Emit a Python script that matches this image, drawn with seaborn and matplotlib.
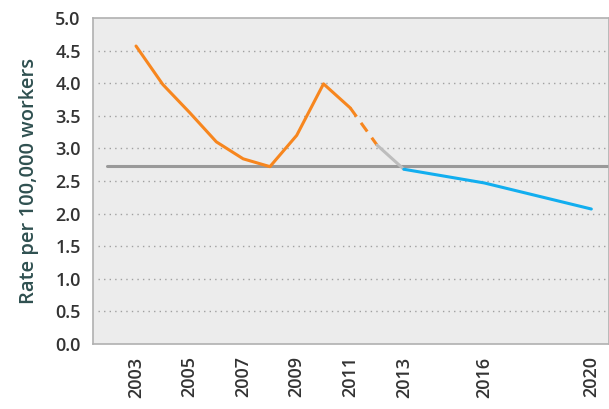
import pandas as pd
import matplotlib.pyplot as plt
import seaborn as sns

# Valores
anos_laranja = [2003, 2004, 2005, 2006, 2007, 2008, 2009, 2010, 2011]
taxa_laranja = [4.57, 3.98, 3.55, 3.10, 2.84, 2.72, 3.20, 3.99, 3.62]
anos_tracejado = [2011, 2012]
taxa_tracejado = [3.62, 3.05]
anos_cinza = [2012, 2013]
taxa_cinza = [3.05, 2.68]
anos_azul = [2013, 2016, 2020]
taxa_azul = [2.68, 2.47, 2.07]
anos_media = [2001.9, 2020.7]
taxa_media = [2.73, 2.73]
ticks_x = [2003, 2005, 2007, 2009, 2011, 2013, 2016, 2020]
ticks_y = [0.0, 0.5, 1.0, 1.5, 2.0, 2.5, 3.0, 3.5, 4.0, 4.5, 5.0]

sns.set_style("white")
plt.rcParams['font.family'] = ['Open Sans', 'DejaVu Sans']

fig = plt.figure(figsize=(6.09, 4.09), dpi=100)
ax = fig.add_axes([0.153, 0.159, 0.847, 0.797])
ax.set_facecolor("#ececec")

# linhas de grade pontilhadas
for v in ticks_y[1:-1]:
    ax.axhline(v, xmin=0.01, color="#a0a0a0", linestyle=(0, (1, 3)), linewidth=1.0, zorder=1)

sns.lineplot(x=anos_media, y=taxa_media, ax=ax, color="#999999", linewidth=2.2, zorder=2)
sns.lineplot(x=anos_laranja, y=taxa_laranja, ax=ax, color="#f7861e", linewidth=2.2, zorder=3)
sns.lineplot(x=anos_tracejado, y=taxa_tracejado, ax=ax, color="#f7861e", linewidth=2.2,
             linestyle=(0, (3.5, 2.5)), zorder=3)
sns.lineplot(x=anos_cinza, y=taxa_cinza, ax=ax, color="#bdbdbd", linewidth=2.2, zorder=3)
sns.lineplot(x=anos_azul, y=taxa_azul, ax=ax, color="#12aeef", linewidth=2.2, zorder=3)

ax.set_xlim(2001.4, 2020.66)
ax.set_ylim(0, 5.0)
ax.set_xticks(ticks_x)
ax.set_xticklabels([str(a) for a in ticks_x], rotation=90, fontsize=13,
                   fontweight="semibold", color="#333333")
ax.set_yticks(ticks_y)
ax.set_yticklabels([f"{v:.1f}" for v in ticks_y], fontsize=13,
                   fontweight="semibold", color="#333333")
ax.tick_params(axis="both", length=0, pad=9)
ax.set_ylabel("Rate per 100,000 workers", fontsize=14.5, fontweight="semibold",
              color="#2f5050", labelpad=12)

for lado in ["left", "bottom", "top", "right"]:
    ax.spines[lado].set_color("#b0b0b0")
    ax.spines[lado].set_linewidth(1.2)

plt.savefig("out.png", dpi=100)
